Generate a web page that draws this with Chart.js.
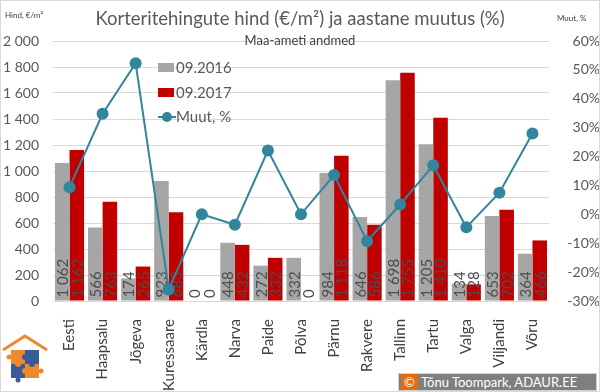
<!DOCTYPE html>
<html>
<head>
<meta charset="utf-8">
<script src="https://cdn.jsdelivr.net/npm/chart.js@4"></script>
<style>
  body { margin: 0; background: #fff; }
  #wrap { position: relative; width: 600px; height: 392px; font-family: Lato, 'Open Sans', sans-serif; color: #595959; box-sizing: border-box; }
  #frame { position: absolute; left: 0; top: 0; width: 598px; height: 390px; border: 1px solid #d9d9d9; pointer-events: none; }
  canvas { position: absolute; left: 0; top: 0; }
  .abs { position: absolute; white-space: nowrap; }
  #title { left: 0; width: 600px; top: 7px; text-align: center; font-size: 18.5px; }
  #subtitle { left: 0; width: 600px; top: 32px; text-align: center; font-size: 13px; color: #404040; }
  #unitL { left: 5px; top: 10px; font-size: 8px; color: #404040; }
  #unitR { left: 557px; top: 13px; font-size: 8px; color: #404040; }
  .leg { font-size: 15px; color: #595959; left: 158px; }
  .sw { display: inline-block; width: 16px; height: 9px; margin-right: 2px; vertical-align: 1px; }
  #copy { left: 398px; top: 373px; width: 199px; height: 18px; background: #7f7f7f; border: 1px solid #d0d0d0; box-sizing: border-box; color: #fff; font-size: 13px; line-height: 16px; }
  #copy span { display: inline-block; background: #e46c0a; width: 17px; text-align: center; margin: 0 3px 0 2px; }
</style>
</head>
<body>
<div id="wrap">
  <canvas id="chart" width="600" height="392"></canvas>
  <div id="frame"></div>
  <div class="abs" id="title">Korteritehingute hind (€/m²) ja aastane muutus (%)</div>
  <div class="abs" id="subtitle">Maa-ameti andmed</div>
  <div class="abs" id="unitL">Hind, €/m²</div>
  <div class="abs" id="unitR">Muut, %</div>
  <div class="abs leg" style="top:58px"><span class="sw" style="background:#a6a6a6"></span>09.2016</div>
  <div class="abs leg" style="top:83px"><span class="sw" style="background:#c00000"></span>09.2017</div>
  <div class="abs leg" style="top:107px">
    <svg width="18" height="12" style="vertical-align:-1px"><line x1="0" y1="6" x2="18" y2="6" stroke="#31859c" stroke-width="2"/><circle cx="9" cy="6" r="5" fill="#31859c"/></svg>Muut, %
  </div>
  <svg class="abs" style="left:1px;top:333px" width="50" height="58">
    <polyline points="2,17 24,3 46,17" fill="none" stroke="#f0882c" stroke-width="3"/>
    <rect x="10" y="17" width="14" height="14" fill="#f0882c"/>
    <rect x="24" y="17" width="14" height="14" fill="#3a5a98"/>
    <rect x="10" y="31" width="14" height="14" fill="#3a5a98"/>
    <rect x="24" y="31" width="14" height="14" fill="#f0882c"/>
    <circle cx="24" cy="24" r="3" fill="#3a5a98"/>
    <circle cx="17" cy="31" r="3" fill="#f0882c"/>
    <circle cx="31" cy="31" r="3" fill="#3a5a98"/>
    <circle cx="24" cy="38" r="3" fill="#f0882c"/>
    <circle cx="8" cy="24" r="2.5" fill="#f0882c"/>
    <circle cx="40" cy="38" r="2.5" fill="#f0882c"/>
    <circle cx="17" cy="47" r="2.5" fill="#3a5a98"/>
  </svg>
  <div class="abs" id="copy"><span>©</span>Tõnu Toompark, ADAUR.EE</div>
</div>
<script>
const cities = ['Eesti', 'Haapsalu', 'Jõgeva', 'Kuressaare', 'Kärdla', 'Narva', 'Paide', 'Põlva',
  'Pärnu', 'Rakvere', 'Tallinn', 'Tartu', 'Valga', 'Viljandi', 'Võru'];
const price2016 = [1062, 566, 174, 923, 0, 448, 272, 332, 984, 646, 1698, 1205, 134, 653, 364];
const price2017 = [1162, 763, 265, 683, 0, 432, 332, 0, 1118, 586, 1755, 1410, 128, 702, 466];
const changePct = [9.4, 34.8, 52.3, -26.0, 0, -3.6, 22.1, 0, 13.6, -9.3, 3.4, 17.0, -4.5, 7.5, 28.0];
const leftTicks = [0, 200, 400, 600, 800, 1000, 1200, 1400, 1600, 1800, 2000];
const rightTicks = [-30, -20, -10, 0, 10, 20, 30, 40, 50, 60];

const FONT = 'Lato, "Open Sans", sans-serif';
const fmt = v => String(v).replace(/\B(?=(\d{3})+(?!\d))/g, ' ');

// vertical value labels inside the bars
const barLabels = {
  id: 'barLabels',
  afterDatasetDraw(chart, args) {
    if (args.meta.type !== 'bar') return;
    const ctx = chart.ctx;
    const data = chart.data.datasets[args.index].data;
    ctx.save();
    ctx.font = '15px ' + FONT;
    ctx.fillStyle = '#4d4d4d';
    ctx.textAlign = 'left';
    ctx.textBaseline = 'middle';
    args.meta.data.forEach((el, i) => {
      ctx.save();
      ctx.translate(el.x + 1, el.base - 3);
      ctx.rotate(-Math.PI / 2);
      ctx.fillText(fmt(data[i]), 0, 0);
      ctx.restore();
    });
    ctx.restore();
  }
};

new Chart(document.getElementById('chart'), {
  type: 'bar',
  data: {
    labels: cities,
    datasets: [
      {
        type: 'line',
        label: 'Muut, %',
        data: changePct,
        yAxisID: 'y1',
        borderColor: '#31859c',
        backgroundColor: '#31859c',
        borderWidth: 2,
        pointRadius: 6,
        pointBorderWidth: 0,
        tension: 0,
        order: 0
      },
      {
        label: '09.2016',
        data: price2016,
        backgroundColor: '#a6a6a6',
        yAxisID: 'y',
        order: 1
      },
      {
        label: '09.2017',
        data: price2017,
        backgroundColor: '#c00000',
        yAxisID: 'y',
        order: 1
      }
    ]
  },
  options: {
    responsive: false,
    animation: false,
    layout: { padding: { top: 41, left: 0, right: 0, bottom: 0 } },
    datasets: { bar: { categoryPercentage: 0.88, barPercentage: 1 } },
    plugins: {
      legend: { display: false },
      tooltip: { enabled: false }
    },
    scales: {
      x: {
        grid: { display: false },
        border: { display: false },
        ticks: {
          color: '#404040',
          font: { family: FONT, size: 15 },
          minRotation: 90,
          maxRotation: 90,
          padding: 10
        },
        afterFit: s => { s.height = 91; }
      },
      y: {
        position: 'left',
        min: 0,
        max: 2000,
        afterBuildTicks: s => { s.ticks = leftTicks.map(v => ({ value: v })); },
        grid: { color: '#d9d9d9', lineWidth: 1, drawTicks: false },
        border: { display: false },
        ticks: {
          color: '#595959',
          font: { family: FONT, size: 14 },
          padding: 14,
          callback: v => fmt(v)
        },
        afterFit: s => { s.width = 53; }
      },
      y1: {
        position: 'right',
        min: -30,
        max: 60,
        afterBuildTicks: s => { s.ticks = rightTicks.map(v => ({ value: v })); },
        grid: { display: false },
        border: { display: false },
        ticks: {
          color: '#595959',
          font: { family: FONT, size: 14 },
          crossAlign: 'far',
          padding: 4,
          callback: v => v + '%'
        },
        afterFit: s => { s.width = 51; }
      }
    }
  },
  plugins: [barLabels]
});
</script>
</body>
</html>
